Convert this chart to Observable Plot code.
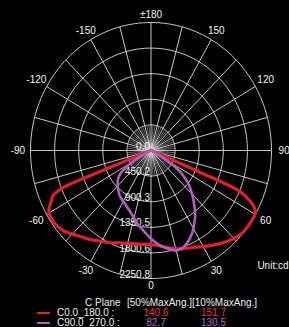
<!DOCTYPE html>
<html><head><meta charset="utf-8">
<script src="https://cdn.jsdelivr.net/npm/d3@7"></script>
<script src="https://cdn.jsdelivr.net/npm/@observablehq/plot@0.6"></script>
<style>
html,body{margin:0;padding:0;background:#000;overflow:hidden;}
#wrap{width:289px;height:327px;position:relative;background:#000;font-family:"Liberation Sans",Arial,sans-serif;}
#chart{position:absolute;left:0;top:0;}
#legend{position:absolute;left:0;top:290px;width:289px;height:37px;color:#eee;font-size:10px;}
#legend span{position:absolute;white-space:nowrap;line-height:10px;}
#legend i{position:absolute;height:2px;width:13px;}
</style></head><body><div id="wrap"><div id="chart"></div><div id="legend"></div></div>
<script>
// ---- data ----
const maxValue = 2250.8;
const ringValues = [0.0, 450.2, 900.3, 1350.5, 1800.6, 2250.8];
const ringLabels = ["0.0", "450.2", "900.3", "1350.5", "1800.6", "2250.8"];
const angleTicks = [0, 30, 60, 90, 120, 150, 180, -150, -120, -90, -60, -30];
const angleTickLabels = ["0", "30", "60", "90", "120", "150", "\u00b1180", "-150", "-120", "-90", "-60", "-30"];

// C0.0_180.0 plane (angle in degrees from nadir, intensity in cd)
const c0Angles = [-180, -150, -120, -90, -80, -72, -69, -68.7, -68.4, -67.5, -66.3, -64.5, -63, -61, -59, -56, -53, -49, -45, -41, -36, -32, -26, -20, -13, -6, 0, 6, 10, 15, 20, 26, 30, 35, 42, 47, 51, 55, 58, 60.3, 62, 63.6, 65.3, 66.7, 67.3, 67.8, 70, 80, 90, 120, 150, 180];
const c0Values = [8, 8, 8, 10, 15, 40, 150, 800, 1750, 1900, 2010, 2060, 2120, 2181, 2205, 2214, 2200, 2157, 2080, 2005, 1935, 1872, 1800, 1730, 1674, 1660, 1653, 1690, 1730, 1788, 1835, 1892, 1950, 2030, 2145, 2215, 2245, 2250, 2250, 2240, 2200, 2110, 1960, 1780, 1000, 200, 40, 15, 10, 8, 8, 8];

// C90.0_270.0 plane
const c90Angles = [-180, -120, -90, -75, -68, -63, -59, -55, -51, -47, -41, -35, -29, -24, -17, -11, -5, 0, 5, 10, 14, 17, 20, 24, 28, 32, 35, 38, 42, 46, 50, 53, 56, 59, 61, 64, 70, 80, 90, 120, 180];
const c90Values = [5, 5, 5, 15, 60, 200, 450, 690, 790, 853, 930, 999, 1040, 1092, 1190, 1314, 1430, 1553, 1660, 1750, 1810, 1822, 1800, 1733, 1640, 1520, 1437, 1330, 1188, 1050, 917, 780, 627, 400, 240, 90, 25, 10, 5, 5, 5];

const seriesNames = ["C0.0_180.0 :", "C90.0_270.0 :"];
const seriesColors = ["#e01e2c", "#b65cbf"];
const valueColors = ["#f0303a", "#b860c4"];
const maxAng50 = ["140.6", "82.7"];
const maxAng10 = ["151.7", "130.5"];
const legendHeader = ["C Plane", "[50%MaxAng.][10%MaxAng.]"];
const unitLabel = "Unit:cd";

// ---- derived tables ----
const rad = a => a * Math.PI / 180;
const toXY = (a, r) => ({x: r * Math.sin(rad(a)), y: r * Math.cos(rad(a))});

const ringPts = [];
ringValues.slice(1).forEach(rv => {
  for (let a = 0; a <= 360; a += 2) ringPts.push({...toXY(a, rv), ring: rv});
});
const spokes = [];
for (let a = 0; a < 360; a += 15) {
  const p = toXY(a, maxValue);
  spokes.push({x1: 0, y1: 0, x2: p.x, y2: p.y});
}
const innerSpokes = [];
for (let a = 0; a < 360; a += 5) {
  if (a % 15 === 0) continue;
  const p = toXY(a, ringValues[1]);
  innerSpokes.push({x1: 0, y1: 0, x2: p.x, y2: p.y});
}
const ringText = ringValues.map((v, i) => ({x: 0, y: v, t: ringLabels[i]}));
const angText = angleTicks.map((a, i) => {
  const f = 1.06 + 0.045 * Math.abs(Math.sin(rad(a)));
  return {...toXY(a, maxValue * f), t: angleTickLabels[i]};
});
const c0 = c0Angles.map((a, i) => toXY(a, c0Values[i]));
const c90 = c90Angles.map((a, i) => toXY(a, c90Values[i]));

const chart = Plot.plot({
  width: 289,
  height: 290,
  marginLeft: 30, marginRight: 18, marginTop: 22, marginBottom: 12,
  x: {domain: [-maxValue, maxValue], axis: null},
  y: {domain: [-maxValue, maxValue], reverse: true, axis: null},
  style: {background: "#000", color: "#f2f2f2", fontFamily: "'Liberation Sans', Arial, sans-serif", fontSize: "10px", overflow: "visible"},
  marks: [
    Plot.line(ringPts, {x: "x", y: "y", z: "ring", stroke: "#dcdcdc", strokeWidth: 0.9}),
    Plot.link(spokes, {x1: "x1", y1: "y1", x2: "x2", y2: "y2", stroke: "#dcdcdc", strokeWidth: 0.9}),
    Plot.link(innerSpokes, {x1: "x1", y1: "y1", x2: "x2", y2: "y2", stroke: "#dcdcdc", strokeWidth: 0.6, strokeOpacity: 0.8}),
    Plot.text(ringText, {x: "x", y: "y", text: "t", textAnchor: "end", lineAnchor: "bottom", dx: -1, dy: -1, fill: "#f4f4f4", fontSize: 10}),
    Plot.text(angText, {x: "x", y: "y", text: "t", fill: "#f4f4f4", fontSize: 10}),
    Plot.line(c0, {x: "x", y: "y", stroke: seriesColors[0], strokeWidth: 3.2, curve: "catmull-rom"}),
    Plot.line(c90, {x: "x", y: "y", stroke: seriesColors[1], strokeWidth: 2.6, curve: "catmull-rom"}),
    Plot.text([unitLabel], {frameAnchor: "bottom-right", textAnchor: "end", dx: 17, dy: -10, fill: "#f4f4f4", fontSize: 10})
  ]
});
document.getElementById("chart").appendChild(chart);

// ---- legend ----
const lg = document.getElementById("legend");
function span(txt, left, top, color, anchor) {
  const s = document.createElement("span");
  s.textContent = txt;
  s.style.top = top + "px";
  s.style.color = color || "#eee";
  s.style.left = left + "px";
  if (anchor === "middle") s.style.transform = "translateX(-50%)";
  lg.appendChild(s);
}
span(legendHeader[0], 85, 8);
span(legendHeader[1], 127, 8);
seriesNames.forEach((n, i) => {
  const top = 18 + i * 10;
  const sw = document.createElement("i");
  sw.style.left = "37px"; sw.style.top = (top + 4) + "px"; sw.style.background = seriesColors[i];
  lg.appendChild(sw);
  span(n, 57, top);
  span(maxAng50[i], 156, top, valueColors[i], "middle");
  span(maxAng10[i], 213.5, top, valueColors[i], "middle");
});
</script></body></html>
